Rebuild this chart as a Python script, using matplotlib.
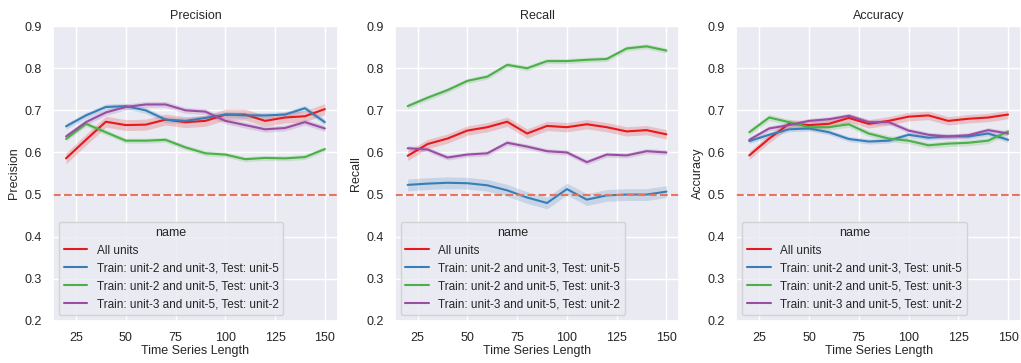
import numpy as np
import matplotlib
matplotlib.use("Agg")
import matplotlib.pyplot as plt
import seaborn as sns

# time series lengths on the x axis
lengths = [20, 30, 40, 50, 60, 70, 80, 90, 100, 110, 120, 130, 140, 150]

names = ["All units",
         "Train: unit-2 and unit-3, Test: unit-5",
         "Train: unit-2 and unit-5, Test: unit-3",
         "Train: unit-3 and unit-5, Test: unit-2"]

# precision, one list per experiment
prec_all = [0.586, 0.630, 0.673, 0.665, 0.666, 0.678, 0.672, 0.675, 0.690, 0.690, 0.675, 0.683, 0.686, 0.703]
prec_u5 = [0.662, 0.688, 0.708, 0.710, 0.700, 0.678, 0.675, 0.682, 0.690, 0.688, 0.688, 0.690, 0.705, 0.672]
prec_u3 = [0.632, 0.668, 0.648, 0.628, 0.628, 0.630, 0.612, 0.598, 0.595, 0.584, 0.587, 0.586, 0.589, 0.608]
prec_u2 = [0.638, 0.672, 0.695, 0.708, 0.714, 0.714, 0.700, 0.697, 0.675, 0.665, 0.655, 0.658, 0.672, 0.657]

# recall
rec_all = [0.592, 0.620, 0.633, 0.652, 0.660, 0.673, 0.645, 0.663, 0.660, 0.667, 0.660, 0.650, 0.653, 0.643]
rec_u5 = [0.523, 0.526, 0.528, 0.527, 0.522, 0.510, 0.493, 0.480, 0.513, 0.488, 0.498, 0.500, 0.500, 0.507]
rec_u3 = [0.710, 0.730, 0.748, 0.770, 0.780, 0.808, 0.800, 0.817, 0.817, 0.820, 0.822, 0.847, 0.852, 0.842]
rec_u2 = [0.610, 0.607, 0.588, 0.595, 0.598, 0.623, 0.614, 0.603, 0.600, 0.577, 0.595, 0.593, 0.603, 0.600]

# accuracy
acc_all = [0.593, 0.633, 0.668, 0.665, 0.668, 0.682, 0.668, 0.675, 0.685, 0.688, 0.675, 0.680, 0.683, 0.690]
acc_u5 = [0.627, 0.642, 0.655, 0.657, 0.648, 0.632, 0.626, 0.628, 0.642, 0.635, 0.638, 0.638, 0.645, 0.630]
acc_u3 = [0.648, 0.683, 0.672, 0.660, 0.660, 0.667, 0.645, 0.633, 0.628, 0.617, 0.621, 0.623, 0.628, 0.650]
acc_u2 = [0.630, 0.657, 0.665, 0.675, 0.679, 0.687, 0.672, 0.672, 0.652, 0.642, 0.638, 0.641, 0.653, 0.645]

# half width of the confidence band, per experiment
prec_band = [0.013, 0.007, 0.006, 0.007]
rec_band = [0.011, 0.014, 0.006, 0.006]
acc_band = [0.010, 0.006, 0.007, 0.006]

panels = [
    ("Precision", [prec_all, prec_u5, prec_u3, prec_u2], prec_band),
    ("Recall", [rec_all, rec_u5, rec_u3, rec_u2], rec_band),
    ("Accuracy", [acc_all, acc_u5, acc_u3, acc_u2], acc_band),
]

sns.set_theme(style="darkgrid")
plt.rcParams['font.family'] = ['Liberation Sans', 'DejaVu Sans']
plt.rcParams['font.size'] = 9
colors = sns.color_palette("Set1", 4)

fig, axes = plt.subplots(1, 3, figsize=(10.21, 3.63), dpi=100)
fig.subplots_adjust(left=0.052, right=1.0, bottom=0.116, top=0.928, wspace=0.2)

x = np.array(lengths)
for ax, (title, series, bands) in zip(axes, panels):
    for name, vals, band, col in zip(names, series, bands, colors):
        vals = np.array(vals)
        ax.plot(x, vals, color=col, lw=1.5, label=name)
        ax.fill_between(x, vals - band, vals + band, color=col, alpha=0.2, lw=0)
    ax.axhline(0.5, color='#e8735f', ls='--', lw=1.5)
    ax.set_ylim(0.2, 0.9)
    ax.set_xticks([25, 50, 75, 100, 125, 150])
    ax.tick_params(labelsize=9, pad=2)
    ax.set_title(title, fontsize=9, pad=5)
    ax.set_ylabel(title, fontsize=9, labelpad=3)
    ax.set_xlabel("Time Series Length", fontsize=9, labelpad=1)
    ax.legend(title="name", loc="lower left", fontsize=8.5, title_fontsize=9)

fig.savefig("out.png", dpi=100)
